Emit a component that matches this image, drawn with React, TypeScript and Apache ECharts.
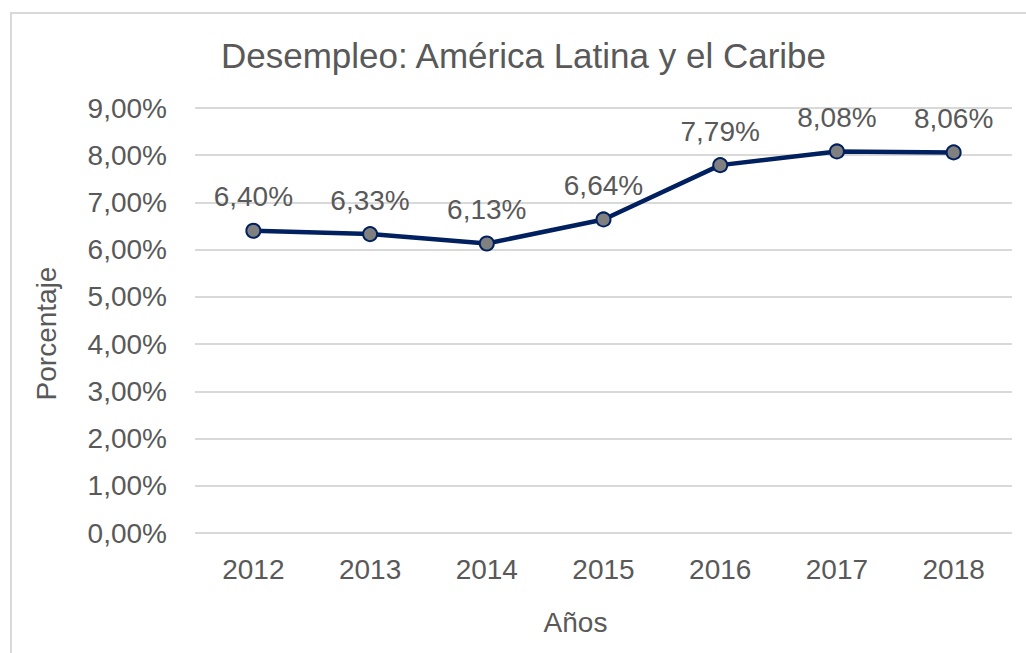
import React, { useEffect, useRef } from "react";
import * as echarts from "echarts";

const years = ["2012", "2013", "2014", "2015", "2016", "2017", "2018"];
const unemployment = [6.4, 6.33, 6.13, 6.64, 7.79, 8.08, 8.06];
const yTicks = { min: 0, max: 9, interval: 1 };

const fmt = (v: number) => v.toFixed(2).replace(".", ",") + "%";
const FONT = "'Liberation Sans', Arial, sans-serif";
const TEXT = "#595959";

export default function App() {
  const ref = useRef<HTMLDivElement>(null);
  useEffect(() => {
    const chart = echarts.init(ref.current!, null, { renderer: "svg" });
    chart.setOption({
      animation: false,
      backgroundColor: "#ffffff",
      textStyle: { fontFamily: FONT },
      title: {
        text: "Desempleo: América Latina y el Caribe",
        left: 216,
        top: 33,
        textStyle: { fontFamily: FONT, fontSize: 35, fontWeight: "normal", color: TEXT },
      },
      graphic: [
        {
          type: "rect",
          shape: { x: 11, y: 13, width: 1040, height: 680 },
          style: { fill: "none", stroke: "#d9d9d9", lineWidth: 2 },
          silent: true,
        },
      ],
      grid: { left: 195, right: 14, top: 108, bottom: 120 },
      xAxis: {
        type: "category",
        data: years,
        boundaryGap: true,
        axisLine: { show: false },
        axisTick: { show: false },
        axisLabel: { color: TEXT, fontSize: 28, fontFamily: FONT, margin: 22 },
        name: "Años",
        nameLocation: "middle",
        nameGap: 75,
        nameTextStyle: { color: TEXT, fontSize: 28, fontFamily: FONT, padding: [0, 56, 0, 0] },
      },
      yAxis: {
        type: "value",
        min: yTicks.min,
        max: yTicks.max,
        interval: yTicks.interval,
        axisLine: { show: false },
        axisTick: { show: false },
        splitLine: { lineStyle: { color: "#d9d9d9", width: 2 } },
        axisLabel: { color: TEXT, fontSize: 28, fontFamily: FONT, margin: 28, formatter: (v: number) => fmt(v) },
        name: "Porcentaje",
        nameLocation: "middle",
        nameGap: 135,
        nameTextStyle: { color: TEXT, fontSize: 28, fontFamily: FONT, padding: [0, 26, 0, 0] },
      },
      series: [
        {
          type: "line",
          data: unemployment,
          symbol: "circle",
          symbolSize: 14,
          lineStyle: { color: "#002060", width: 4.5 },
          itemStyle: { color: "#808080", borderColor: "#002060", borderWidth: 2 },
          label: {
            show: true,
            position: "top",
            distance: 12,
            color: TEXT,
            fontSize: 28,
            fontFamily: FONT,
            formatter: (p: any) => fmt(p.value),
          },
        },
      ],
    });
    return () => chart.dispose();
  }, []);
  return (
    <div
      ref={ref}
      style={{ position: "fixed", left: 0, top: 0, width: 1026, height: 653 }}
    />
  );
}
